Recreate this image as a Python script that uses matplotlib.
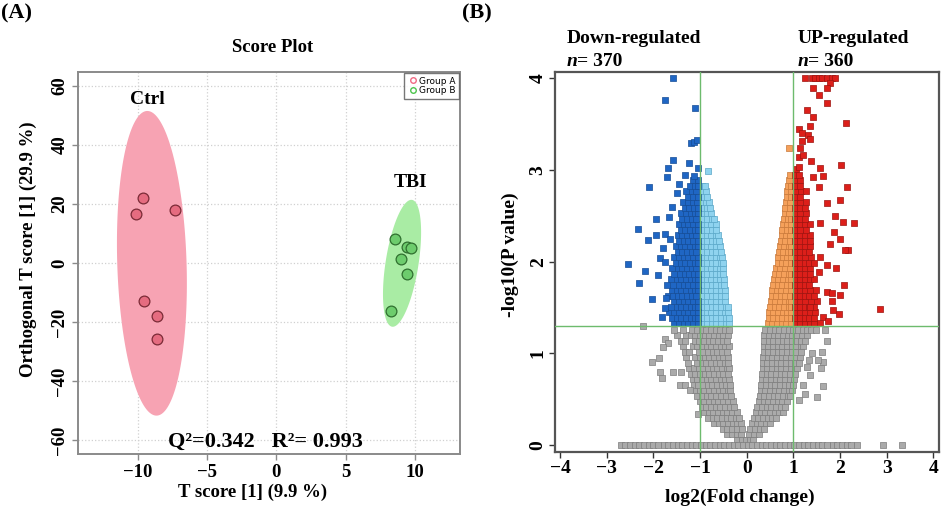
import matplotlib.pyplot as plt
import numpy as np
from matplotlib.lines import Line2D

plt.rcParams['font.family'] = ['Liberation Serif', 'DejaVu Serif']
plt.rcParams['font.weight'] = 'bold'

# ---------------- (A) score plot ----------------
ctrl_t = [-9.6, -10.15, -7.3, -9.55, -8.6, -8.6]
ctrl_o = [22.0, 16.5, 18.0, -13.0, -18.0, -25.8]
tbi_t = [8.55, 9.4, 9.7, 9.0, 9.45, 8.27]
tbi_o = [8.0, 5.5, 5.0, 1.2, -3.6, -16.1]

# confidence ellipses: centre, half-axis to the top, horizontal half-width
ctrl_ell = (-8.97, -0.1, -0.33, 51.6, 2.5)
tbi_ell = (9.07, -0.1, 0.67, 21.5, 1.2)

# ---------------- (B) volcano plot ----------------
# rows of points: (-log10 p, [log2 FC values])
gray_rows = [
    (0.06, [-0.21, -0.11, -0.02, 0.06, 0.14]),
    (0.12, [-0.42, -0.32, -0.22, -0.12, 0.05, 0.15, 0.26]),
    (0.18, [-0.52, -0.42, -0.31, -0.21, -0.1, 0.08, 0.18, 0.28, 0.38]),
    (0.24, [-0.71, -0.6, -0.5, -0.4, -0.3, -0.2, -0.12, 0.11, 0.21, 0.31, 0.41, 0.5]),
    (0.30, [-0.83, -0.73, -0.63, -0.53, -0.43, -0.33, -0.23, -0.16, 0.15, 0.25, 0.35, 0.45, 0.55, 0.63]),
    (0.36, [-0.92, -0.82, -0.72, -0.62, -0.52, -0.42, -0.32, -0.22, 0.2, 0.3, 0.4, 0.5, 0.6, 0.69, 0.77]),
    (0.42, [-0.97, -0.87, -0.77, -0.67, -0.57, -0.47, -0.37, -0.27, 0.23, 0.33, 0.43, 0.53, 0.63, 0.73, 0.83]),
    (0.48, [-1.01, -0.91, -0.81, -0.71, -0.61, -0.5, -0.4, -0.3, 0.26, 0.36, 0.46, 0.56, 0.66, 0.76, 0.87]),
    (0.54, [-1.06, -0.96, -0.86, -0.76, -0.66, -0.55, -0.44, -0.33, 0.28, 0.38, 0.48, 0.58, 0.68, 0.78, 0.88, 0.93]),
    (0.60, [-1.12, -1.01, -0.91, -0.81, -0.71, -0.6, -0.5, -0.4, -0.35, 0.3, 0.4, 0.5, 0.6, 0.7, 0.8, 0.9, 0.96]),
    (0.66, [-1.14, -1.04, -0.94, -0.84, -0.74, -0.64, -0.54, -0.44, -0.37, 0.31, 0.41, 0.51, 0.61, 0.71, 0.81, 0.91, 0.99]),
    (0.72, [-1.16, -1.06, -0.96, -0.86, -0.76, -0.66, -0.56, -0.46, -0.38, 0.32, 0.42, 0.52, 0.62, 0.72, 0.82, 0.92, 1.01]),
    (0.78, [-1.2, -1.1, -1.0, -0.9, -0.8, -0.7, -0.6, -0.5, -0.4, 0.33, 0.43, 0.53, 0.63, 0.73, 0.83, 0.93, 1.03]),
    (0.84, [-1.24, -1.13, -1.03, -0.93, -0.83, -0.73, -0.63, -0.53, -0.43, -0.39, 0.34, 0.44, 0.54, 0.64, 0.74, 0.84, 0.94, 1.04, 1.08]),
    (0.90, [-1.27, -1.07, -0.97, -0.87, -0.77, -0.67, -0.57, -0.47, -0.4, 0.34, 0.44, 0.54, 0.64, 0.74, 0.84, 0.94, 1.04, 1.11]),
    (0.96, [-1.3, -1.1, -1.0, -0.9, -0.8, -0.7, -0.6, -0.5, -0.41, 0.35, 0.45, 0.55, 0.65, 0.75, 0.85, 0.95, 1.05, 1.14]),
    (1.02, [-1.33, -1.23, -1.03, -0.93, -0.83, -0.73, -0.63, -0.53, -0.43, 0.36, 0.46, 0.56, 0.66, 0.76, 0.86, 0.96, 1.06, 1.17]),
    (1.08, [-1.36, -1.16, -1.06, -0.96, -0.86, -0.76, -0.66, -0.56, -0.46, -0.39, 0.36, 0.46, 0.56, 0.66, 0.76, 0.86, 0.96, 1.06, 1.16, 1.21]),
    (1.14, [-1.42, -1.32, -1.12, -1.02, -0.92, -0.82, -0.72, -0.62, -0.52, -0.42, 0.37, 0.47, 0.57, 0.67, 0.77, 0.87, 0.97, 1.07, 1.17, 1.24]),
    (1.20, [-1.5, -1.3, -1.2, -1.1, -1.0, -0.9, -0.8, -0.7, -0.6, -0.5, -0.4, 0.38, 0.48, 0.58, 0.68, 0.78, 0.88, 0.98, 1.08, 1.18, 1.29]),
    (1.26, [-1.57, -1.37, -1.17, -1.07, -0.97, -0.87, -0.77, -0.67, -0.57, -0.47, -0.39, 0.4, 0.5, 0.6, 0.7, 0.8, 0.9, 1.0, 1.1, 1.2, 1.3, 1.37]),
]
gray_zero_fc = [-2.7, -2.6, -2.5, -2.4, -2.3, -2.2, -2.1, -2.0, -1.9, -1.78, -1.68, -1.58, -1.48,
                -1.38, -1.28, -1.18, -1.08, -0.98, -0.88, -0.78, -0.68, -0.58, -0.48, -0.38, -0.28,
                -0.18, -0.08, 0.02, 0.12, 0.22, 0.32, 0.42, 0.52, 0.62, 0.72, 0.82, 0.92, 1.02, 1.12,
                1.22, 1.32, 1.42, 1.52, 1.62, 1.72, 1.84, 1.94, 2.04, 2.14, 2.24, 2.37, 2.93, 3.32]
gray_sparse_fc = [-2.23, -1.75, -1.68, -1.79, -2.04, -1.88, -1.85, -1.81, -1.58, -1.4, -1.44, -1.32,
                  -1.21, -1.04, 1.11, 1.5, 1.63, 1.25, 1.21, 1.36, 1.59, 1.64, 1.53, 1.39, 1.61,
                  1.71, 1.68, 1.48, 1.29, 1.34]
gray_sparse_p = [1.3, 1.16, 1.11, 1.07, 0.91, 0.95, 0.8, 0.73, 0.8, 0.8, 0.65, 0.66, 0.6, 0.34,
                 0.49, 0.52, 0.64, 0.56, 0.65, 0.76, 0.84, 0.91, 0.93, 1.0, 1.02, 1.13, 1.25, 1.25,
                 0.85, 0.93]

lightblue_rows = [
    (1.33, [-0.95, -0.85, -0.75, -0.65, -0.55, -0.45, -0.38]),
    (1.39, [-0.95, -0.85, -0.75, -0.65, -0.55, -0.45, -0.39]),
    (1.45, [-0.96, -0.86, -0.76, -0.66, -0.56, -0.46, -0.4]),
    (1.51, [-0.95, -0.85, -0.75, -0.65, -0.55, -0.45, -0.41]),
    (1.57, [-0.96, -0.86, -0.76, -0.66, -0.56, -0.46]),
    (1.63, [-0.95, -0.85, -0.75, -0.65, -0.55, -0.46]),
    (1.69, [-0.96, -0.86, -0.76, -0.66, -0.56, -0.47]),
    (1.75, [-0.95, -0.85, -0.75, -0.65, -0.56, -0.48]),
    (1.81, [-0.96, -0.86, -0.76, -0.66, -0.57, -0.49]),
    (1.87, [-0.95, -0.85, -0.75, -0.65, -0.57, -0.5]),
    (1.93, [-0.96, -0.86, -0.76, -0.66, -0.58, -0.5]),
    (1.99, [-0.95, -0.85, -0.75, -0.65, -0.56, -0.51]),
    (2.05, [-0.96, -0.86, -0.76, -0.66, -0.57, -0.53]),
    (2.11, [-0.95, -0.85, -0.75, -0.65, -0.56]),
    (2.17, [-0.96, -0.86, -0.76, -0.66, -0.58]),
    (2.23, [-0.95, -0.85, -0.75, -0.65, -0.59]),
    (2.29, [-0.96, -0.86, -0.76, -0.66, -0.61]),
    (2.35, [-0.95, -0.85, -0.75, -0.65]),
    (2.41, [-0.96, -0.86, -0.76, -0.67]),
    (2.47, [-0.95, -0.85, -0.75, -0.7]),
    (2.53, [-0.96, -0.86, -0.77]),
    (2.59, [-0.95, -0.85, -0.79]),
    (2.65, [-0.96, -0.87, -0.81]),
    (2.71, [-0.95, -0.86]),
    (2.77, [-0.96, -0.88]),
    (2.83, [-0.97, -0.9]),
    (2.99, [-0.83]),
]

orange_rows = [
    (1.33, [0.46, 0.55, 0.65, 0.75, 0.85, 0.95]),
    (1.39, [0.47, 0.56, 0.66, 0.76, 0.86, 0.95]),
    (1.45, [0.48, 0.57, 0.67, 0.77, 0.87, 0.95]),
    (1.51, [0.5, 0.6, 0.7, 0.8, 0.9, 0.95]),
    (1.57, [0.52, 0.61, 0.71, 0.81, 0.91, 0.95]),
    (1.63, [0.54, 0.63, 0.73, 0.83, 0.93]),
    (1.69, [0.55, 0.64, 0.74, 0.84, 0.94]),
    (1.75, [0.57, 0.66, 0.76, 0.86, 0.95]),
    (1.81, [0.59, 0.68, 0.78, 0.88, 0.95]),
    (1.87, [0.61, 0.7, 0.8, 0.9, 0.95]),
    (1.93, [0.63, 0.72, 0.82, 0.92]),
    (1.99, [0.66, 0.75, 0.85, 0.95]),
    (2.05, [0.68, 0.77, 0.87, 0.95]),
    (2.11, [0.69, 0.78, 0.88, 0.95]),
    (2.17, [0.71, 0.8, 0.9, 0.95]),
    (2.23, [0.73, 0.82, 0.92]),
    (2.29, [0.75, 0.84, 0.93]),
    (2.35, [0.76, 0.86, 0.95]),
    (2.41, [0.78, 0.87, 0.95]),
    (2.47, [0.8, 0.89, 0.95]),
    (2.53, [0.81, 0.9]),
    (2.59, [0.83, 0.92]),
    (2.65, [0.84, 0.93]),
    (2.71, [0.86, 0.94]),
    (2.77, [0.87, 0.95]),
    (2.83, [0.89, 0.95]),
    (2.89, [0.91]),
    (2.95, [0.93]),
    (3.24, [0.9]),
]

blue_rows = [
    (1.33, [-1.55, -1.45, -1.35, -1.25, -1.15, -1.05]),
    (1.39, [-1.6, -1.5, -1.4, -1.3, -1.2, -1.1, -1.04]),
    (1.45, [-1.67, -1.55, -1.45, -1.35, -1.25, -1.15, -1.05]),
    (1.51, [-1.62, -1.5, -1.4, -1.3, -1.2, -1.1, -1.04]),
    (1.57, [-1.55, -1.45, -1.35, -1.25, -1.15, -1.05]),
    (1.63, [-1.68, -1.58, -1.48, -1.38, -1.28, -1.18, -1.08]),
    (1.69, [-1.6, -1.5, -1.4, -1.3, -1.2, -1.1, -1.04]),
    (1.75, [-1.58, -1.45, -1.35, -1.25, -1.15, -1.05]),
    (1.81, [-1.62, -1.5, -1.4, -1.3, -1.2, -1.1, -1.04]),
    (1.87, [-1.55, -1.43, -1.33, -1.23, -1.13, -1.05]),
    (1.93, [-1.6, -1.48, -1.38, -1.28, -1.18, -1.08]),
    (1.99, [-1.52, -1.42, -1.32, -1.22, -1.12, -1.04]),
    (2.05, [-1.55, -1.45, -1.35, -1.25, -1.15, -1.05]),
    (2.11, [-1.48, -1.38, -1.28, -1.18, -1.08]),
    (2.17, [-1.52, -1.42, -1.32, -1.22, -1.12, -1.04]),
    (2.23, [-1.45, -1.35, -1.25, -1.15, -1.05]),
    (2.29, [-1.48, -1.38, -1.28, -1.18, -1.08]),
    (2.35, [-1.42, -1.32, -1.22, -1.12, -1.04]),
    (2.41, [-1.45, -1.35, -1.25, -1.15, -1.05]),
    (2.47, [-1.38, -1.28, -1.18, -1.08]),
    (2.53, [-1.4, -1.3, -1.2, -1.1, -1.04]),
    (2.59, [-1.33, -1.23, -1.13, -1.05]),
    (2.65, [-1.36, -1.26, -1.16, -1.06]),
    (2.71, [-1.25, -1.15, -1.05]),
    (2.77, [-1.3, -1.18, -1.08]),
    (2.83, [-1.22, -1.12, -1.04]),
    (2.89, [-1.15, -1.05]),
]
blue_sparse_fc = [-1.59, -1.76, -1.11, -1.2, -1.13, -1.06, -1.58, -1.24, -1.05, -1.68, -1.33, -1.72,
                  -1.13, -2.09, -1.95, -2.33, -2.12, -1.94, -1.76, -2.54, -2.18, -2.3, -2.03, -1.82,
                  -1.91, -1.87, -1.74, -1.67, -1.76, -1.6, -1.5, -1.45, -1.8, -1.7, -1.75, -1.65]
blue_sparse_p = [4.0, 3.76, 3.68, 3.29, 3.31, 3.33, 3.11, 3.08, 3.02, 3.02, 2.95, 2.92,
                 2.94, 2.82, 2.47, 2.36, 2.24, 2.29, 2.3, 1.97, 1.9, 1.77, 1.59, 1.4,
                 1.85, 2.04, 1.6, 2.49, 2.0, 2.6, 2.75, 2.85, 2.15, 1.75, 1.5, 2.25]

red_rows = [
    (1.33, [1.05, 1.15, 1.25, 1.35, 1.45, 1.58]),
    (1.39, [1.04, 1.14, 1.24, 1.34, 1.44]),
    (1.45, [1.05, 1.15, 1.25, 1.35, 1.47]),
    (1.51, [1.04, 1.14, 1.24, 1.34, 1.44]),
    (1.57, [1.05, 1.15, 1.25, 1.37, 1.5]),
    (1.63, [1.04, 1.14, 1.24, 1.34, 1.44]),
    (1.69, [1.05, 1.15, 1.25, 1.35, 1.48]),
    (1.75, [1.04, 1.14, 1.24, 1.34]),
    (1.81, [1.05, 1.15, 1.25, 1.35, 1.45]),
    (1.87, [1.04, 1.14, 1.24, 1.36]),
    (1.93, [1.05, 1.15, 1.25, 1.35]),
    (1.99, [1.04, 1.14, 1.24, 1.34, 1.44]),
    (2.05, [1.05, 1.15, 1.25, 1.38]),
    (2.11, [1.04, 1.14, 1.24, 1.34]),
    (2.17, [1.05, 1.15, 1.25, 1.35]),
    (2.23, [1.04, 1.14, 1.24, 1.36]),
    (2.29, [1.05, 1.15, 1.25, 1.35]),
    (2.35, [1.04, 1.14, 1.26]),
    (2.41, [1.05, 1.15, 1.25, 1.36]),
    (2.47, [1.04, 1.14, 1.24]),
    (2.53, [1.05, 1.15, 1.27]),
    (2.59, [1.04, 1.14, 1.24]),
    (2.65, [1.05, 1.15, 1.26]),
    (2.71, [1.04, 1.14]),
    (2.77, [1.05, 1.16, 1.27]),
    (2.83, [1.04, 1.14]),
    (2.89, [1.05, 1.15]),
    (2.95, [1.04, 1.13]),
    (3.01, [1.05]),
]
red_sparse_fc = [1.25, 1.39, 1.46, 1.54, 1.61, 1.71, 1.82, 1.89, 1.78, 1.43, 1.71, 1.54, 1.71,
                 1.29, 1.41, 2.13, 1.36, 1.12, 1.18, 1.32, 1.36, 1.19, 1.14, 1.11, 1.21, 1.38,
                 1.57, 2.01, 1.11, 1.41, 1.63, 2.14, 1.54, 1.73, 2.0, 1.89, 2.06, 2.3, 1.57,
                 1.87, 2.0, 1.79, 2.16, 2.11, 1.57, 1.71, 1.91, 1.54, 2.09, 1.71, 1.82, 2.0,
                 1.82, 1.36, 2.85, 1.84, 1.98, 1.64, 1.75]
red_sparse_p = [4.0, 4.0, 4.0, 4.0, 4.0, 4.0, 4.0, 4.0, 3.95, 3.89, 3.89, 3.82, 3.73,
                3.65, 3.58, 3.51, 3.48, 3.45, 3.4, 3.38, 3.34, 3.32, 3.24, 3.14, 3.16, 3.1,
                3.02, 3.05, 3.03, 2.92, 2.93, 2.82, 2.81, 2.64, 2.67, 2.5, 2.43, 2.42, 2.42,
                2.32, 2.25, 2.19, 2.13, 2.13, 2.05, 1.96, 1.93, 1.89, 1.75, 1.67, 1.66, 1.64,
                1.57, 1.51, 1.48, 1.47, 1.43, 1.4, 1.35]

fc_cut = [-1, 1]
p_cut = 1.3


def unpack(rows):
    xs, ys = [], []
    for y, row in rows:
        xs += row
        ys += [y] * len(row)
    return xs, ys


def px(x, y):
    # pixel position -> figure fraction
    return x / 949, 1 - y / 511


fig = plt.figure(figsize=(9.49, 5.11), dpi=100)

# ===== panel A =====
ax = fig.add_axes([78 / 949, 1 - 454 / 511, 382 / 949, 382 / 511])
ax.set_xlim(-14.3, 13.25)
ax.set_ylim(-64.7, 64.7)
ax.set_xticks([-10, -5, 0, 5, 10])
ax.set_yticks([-60, -40, -20, 0, 20, 40, 60])
ax.set_xticklabels(['\u221210', '\u22125', '0', '5', '10'])
ax.set_yticklabels(['\u221260', '\u221240', '\u221220', '0', '20', '40', '60'])
ax.grid(True, linestyle=':', color='#d0d0d0', linewidth=0.9)
ax.set_axisbelow(True)
for s in ax.spines.values():
    s.set_color('#8a8a8a')
    s.set_linewidth(1.4)
ax.tick_params(axis='both', labelsize=13.5, color='#8a8a8a', length=4, width=1)
ax.tick_params(axis='y', labelrotation=90, pad=3)
for lab in ax.get_yticklabels():
    lab.set_va('center')

t = np.linspace(0, 2 * np.pi, 240)
for (cx, cy, ux, uy, vx), col in [(ctrl_ell, '#f7a3b3'), (tbi_ell, '#a9eca4')]:
    ax.fill(cx + ux * np.cos(t) + vx * np.sin(t), cy + uy * np.cos(t),
            color=col, linewidth=0, zorder=1)

ax.scatter(ctrl_t, ctrl_o, s=60, color='#e56c80', edgecolor='#7a2a36', linewidth=0.9, zorder=3)
ax.scatter(tbi_t, tbi_o, s=60, color='#6dcc6d', edgecolor='#2f6f2f', linewidth=0.9, zorder=3)

ax.text(-9.3, 55.5, 'Ctrl', fontsize=14, ha='center', va='center')
ax.text(9.7, 27.3, 'TBI', fontsize=14, ha='center', va='center')
ax.text(-0.8, -60.5, 'Q\u00b2=0.342   R\u00b2= 0.993', fontsize=16, ha='center', va='center')

handles = [Line2D([], [], marker='o', linestyle='none', markersize=4, markerfacecolor='none',
                  markeredgecolor='#f06a84', markeredgewidth=1, label='Group A'),
           Line2D([], [], marker='o', linestyle='none', markersize=4, markerfacecolor='none',
                  markeredgecolor='#4cc44c', markeredgewidth=1, label='Group B')]
leg = ax.legend(handles=handles, loc='upper right', prop={'family': 'DejaVu Sans', 'size': 6.5,
                'weight': 'normal'}, frameon=True, fancybox=False, borderaxespad=0.1,
                handletextpad=0.1, handlelength=1.2, labelspacing=0.1, borderpad=0.4)
leg.get_frame().set_edgecolor('#555555')
leg.get_frame().set_linewidth(1.0)

fig.text(*px(273, 48), 'Score Plot', fontsize=13.5, ha='center', va='center')
fig.text(*px(253, 492), 'T score [1] (9.9 %)', fontsize=13.5, ha='center', va='center')
fig.text(*px(28, 249), 'Orthogonal T score [1] (29.9 %)', fontsize=13.5, ha='center',
         va='center', rotation=90)
fig.text(*px(1, 13), '(A)', fontsize=16, ha='left', va='center')

# ===== panel B =====
bx = fig.add_axes([555 / 949, 1 - 452 / 511, 384 / 949, 380 / 511])
bx.set_xlim(-4.11, 4.12)
bx.set_ylim(-0.076, 4.07)
bx.set_xticks([-4, -3, -2, -1, 0, 1, 2, 3, 4])
bx.set_xticklabels(['\u22124', '\u22123', '\u22122', '\u22121', '0', '1', '2', '3', '4'])
bx.set_yticks([0, 1, 2, 3, 4])
for s in bx.spines.values():
    s.set_color('#555555')
    s.set_linewidth(1.6)
bx.tick_params(axis='both', labelsize=14, color='#333333', length=4, width=1, pad=2)
bx.tick_params(axis='y', labelrotation=90)
for lab in bx.get_yticklabels():
    lab.set_va('center')

ms = 17
gx, gy = unpack(gray_rows)
bx.scatter(gx, gy, s=ms, marker='s', color='#aaaaaa', edgecolor='#7d7d7d', linewidth=0.5, zorder=2)
bx.scatter(gray_zero_fc, [0] * len(gray_zero_fc), s=ms, marker='s', color='#aaaaaa',
           edgecolor='#7d7d7d', linewidth=0.5, zorder=2)
bx.scatter(gray_sparse_fc, gray_sparse_p, s=ms, marker='s', color='#aaaaaa', edgecolor='#7d7d7d',
           linewidth=0.5, zorder=2)

lx, ly = unpack(lightblue_rows)
bx.scatter(lx, ly, s=ms, marker='s', color='#8fd3ef', edgecolor='#5aa7c8', linewidth=0.5, zorder=3)
ox, oy = unpack(orange_rows)
bx.scatter(ox, oy, s=ms, marker='s', color='#f5a05a', edgecolor='#c8783a', linewidth=0.5, zorder=3)
dx, dy = unpack(blue_rows)
bx.scatter(dx + blue_sparse_fc, dy + blue_sparse_p, s=ms, marker='s', color='#1f66c4',
           edgecolor='#164d96', linewidth=0.5, zorder=3)
rx, ry = unpack(red_rows)
bx.scatter(rx + red_sparse_fc, ry + red_sparse_p, s=ms, marker='s', color='#dc1f1a',
           edgecolor='#9c1410', linewidth=0.5, zorder=3)

for v in fc_cut:
    bx.axvline(v, color='#6dbb6d', linewidth=1.0, zorder=4)
bx.axhline(p_cut, color='#6dbb6d', linewidth=1.0, zorder=4)

fig.text(*px(567, 43), 'Down-regulated', fontsize=14, ha='left', va='baseline')
fig.text(*px(798, 43), 'UP-regulated', fontsize=14, ha='left', va='baseline')
for xp, num in [(567, '370'), (798, '360')]:
    fig.text(*px(xp, 66), 'n', fontsize=14, style='italic', ha='left', va='baseline')
    fig.text(*px(xp + 10, 66), '= ' + num, fontsize=14, ha='left', va='baseline')

fig.text(*px(740, 497), 'log2(Fold change)', fontsize=14, ha='center', va='center')
fig.text(*px(510, 255), '-log10(P value)', fontsize=14, ha='center', va='center', rotation=90)
fig.text(*px(462, 13), '(B)', fontsize=16, ha='left', va='center')

fig.savefig('out.png', dpi=100)
